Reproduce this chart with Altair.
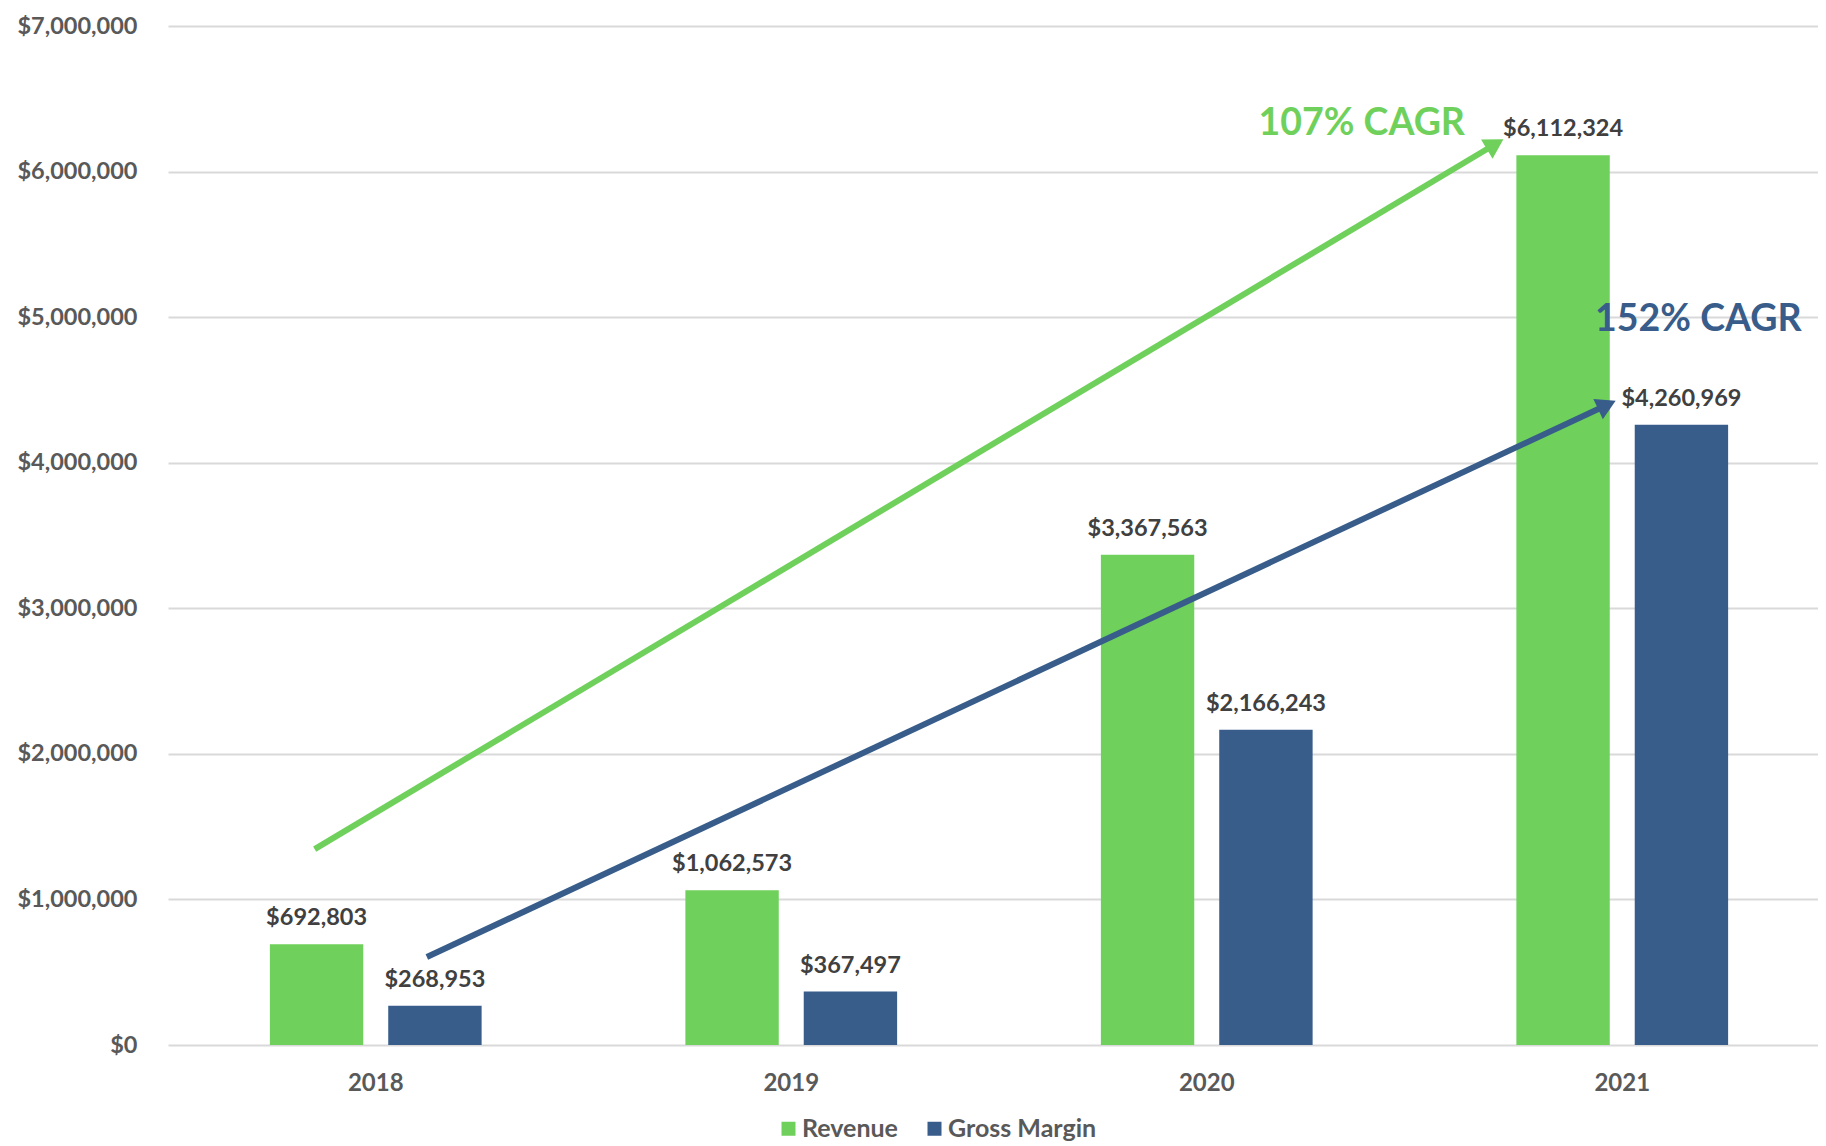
import altair as alt
import pandas as pd

# ---- data ----
years = ["2018", "2019", "2020", "2021"]
revenue = [692803, 1062573, 3367563, 6112324]
gross_margin = [268953, 367497, 2166243, 4260969]
series = ["Revenue", "Gross Margin"]
series_colors = ["#6fd15b", "#385d8a"]
y_ticks = [0, 1000000, 2000000, 3000000, 4000000, 5000000, 6000000, 7000000]

# CAGR arrows (x in category-index units: 2018 = 0 ... 2021 = 3)
arrow_x_start = [-0.147, 0.123]
arrow_y_start = [1346000, 604000]
arrow_x_head = [2.694, 2.963]
arrow_y_head = [6188000, 4397000]
arrow_angle = [59, 65]
arrow_colors = ["#6fd15b", "#385d8a"]
cagr_labels = ["107% CAGR", "152% CAGR"]
cagr_x = [2.373, 3.183]
cagr_y = [6327000, 4981000]

bars_df = pd.DataFrame(
    [{"year": y, "series": "Revenue", "value": v} for y, v in zip(years, revenue)]
    + [{"year": y, "series": "Gross Margin", "value": v} for y, v in zip(years, gross_margin)]
)
arrows_df = pd.DataFrame({
    "x0": arrow_x_start, "y0": arrow_y_start,
    "x1": arrow_x_head, "y1": arrow_y_head,
    "ang": arrow_angle, "col": arrow_colors,
    "label": cagr_labels, "tx": cagr_x, "ty": cagr_y,
})

FONT = "Lato"
X_RANGE = [0, 1662]  # category bands run slightly past the right edge, as in the original

y_scale = alt.Scale(domain=[0, 7000000], nice=False)
y_axis = alt.Axis(values=y_ticks, format="$,.0f", labelFont=FONT, labelFontSize=23.5,
                  labelFontWeight="bold", labelColor="#595959", labelPadding=31,
                  ticks=False, domain=False, gridColor="#d9d9d9", gridWidth=2, title=None)

x_band = alt.X(
    "year:N", sort=years, title=None,
    scale=alt.Scale(range=X_RANGE, paddingInner=0.4904, paddingOuter=0.2452, align=0.5),
    axis=alt.Axis(labelAngle=0, labelFont=FONT, labelFontSize=24, labelFontWeight="bold",
                  labelColor="#595959", labelPadding=26, ticks=False, domain=False, grid=False),
)
x_off = alt.XOffset("series:N", sort=series, scale=alt.Scale(paddingInner=0.211, paddingOuter=0))
y_val = alt.Y("value:Q", title=None, scale=y_scale, axis=y_axis)

bars = alt.Chart(bars_df).mark_bar().encode(
    x=x_band, xOffset=x_off, y=y_val,
    color=alt.Color(
        "series:N", sort=series,
        scale=alt.Scale(domain=series, range=series_colors),
        legend=alt.Legend(orient="none", legendX=608, legendY=1090, direction="horizontal",
                          title=None, symbolType="square", symbolSize=196, symbolStrokeWidth=0,
                          labelFont=FONT, labelFontSize=25, labelFontWeight="bold",
                          labelColor="#595959", columnPadding=24, labelOffset=1),
    ),
)

labels = alt.Chart(bars_df).mark_text(
    baseline="alphabetic", dy=-19, font=FONT, fontSize=23.5, fontWeight="bold", color="#404040"
).encode(
    x=x_band, xOffset=x_off, y=y_val,
    text=alt.Text("value:Q", format="$,.0f"),
)

x_q = alt.Scale(domain=[-0.5, 3.5], range=X_RANGE, nice=False, zero=False)

rules = alt.Chart(arrows_df).mark_rule(strokeWidth=6, strokeCap="butt").encode(
    x=alt.X("x0:Q", scale=x_q, axis=None),
    x2="x1:Q",
    y=alt.Y("y0:Q", title=None, scale=y_scale, axis=y_axis),
    y2="y1:Q",
    color=alt.Color("col:N", scale=None),
)

heads = alt.Chart(arrows_df).mark_point(shape="triangle-up", size=500, filled=True, opacity=1).encode(
    x=alt.X("x1:Q", scale=x_q, axis=None),
    y=alt.Y("y1:Q", title=None, scale=y_scale, axis=y_axis),
    angle=alt.Angle("ang:Q", scale=None),
    color=alt.Color("col:N", scale=None),
)

cagr = alt.Chart(arrows_df).mark_text(font=FONT, fontSize=37.5, fontWeight="bold").encode(
    x=alt.X("tx:Q", scale=x_q, axis=None),
    y=alt.Y("ty:Q", title=None, scale=y_scale, axis=y_axis),
    text="label:N",
    color=alt.Color("col:N", scale=None),
)

chart = alt.layer(
    alt.layer(bars, labels),
    alt.layer(rules, heads, cagr),
).resolve_scale(
    x="independent", color="independent"
).properties(
    width=1650, height=1019,
    autosize=alt.AutoSizeParams(type="none"),
    padding={"left": 160, "top": 18, "right": 0, "bottom": 100},
).configure_view(strokeWidth=0)

chart.save("out.html", embed_options={"renderer": "svg", "actions": False})
